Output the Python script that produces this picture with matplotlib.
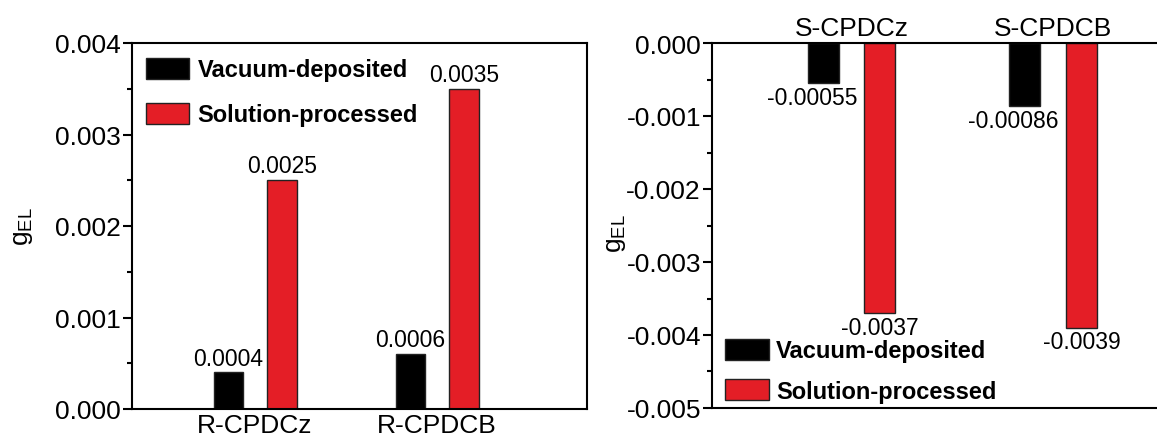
import matplotlib
matplotlib.use("Agg")
import matplotlib.pyplot as plt
from matplotlib.patches import Patch
from matplotlib.ticker import MultipleLocator
import numpy as np

plt.rcParams['font.family'] = ['Liberation Sans', 'DejaVu Sans']
plt.rcParams['axes.unicode_minus'] = False
plt.rcParams['mathtext.fontset'] = 'custom'
plt.rcParams['mathtext.rm'] = 'Liberation Sans'

# ---- data ----
r_categories = ["R-CPDCz", "R-CPDCB"]
r_vacuum = [0.0004, 0.0006]
r_solution = [0.0025, 0.0035]
r_vacuum_labels = ["0.0004", "0.0006"]
r_solution_labels = ["0.0025", "0.0035"]

s_categories = ["S-CPDCz", "S-CPDCB"]
s_vacuum = [-0.00055, -0.00086]
s_solution = [-0.0037, -0.0039]
s_vacuum_labels = ["-0.00055", "-0.00086"]
s_solution_labels = ["-0.0037", "-0.0039"]

series_names = ["Vacuum-deposited", "Solution-processed"]
colors = ["#000000", "#E41E26"]

W, H = 1157, 439
fig = plt.figure(figsize=(W / 100, H / 100), dpi=100)

axL = fig.add_axes([132 / W, 1 - 410 / H, (587 - 132) / W, (410 - 44) / H])
axR = fig.add_axes([712 / W, 1 - 409 / H, (1160 - 712) / W, (409 - 44) / H])

TICK_FS = 19
CAT_FS = 19
VAL_FS = 16.5
LEG_FS = 17
YLAB_FS = 19

def style_axis(ax):
    for s in ax.spines.values():
        s.set_linewidth(1.5)
    ax.yaxis.set_major_locator(MultipleLocator(0.001))
    ax.yaxis.set_minor_locator(MultipleLocator(0.0005))
    ax.yaxis.set_major_formatter(matplotlib.ticker.FormatStrFormatter('%.3f'))
    ax.tick_params(axis='y', which='major', direction='out', length=6.5, width=1.5,
                   labelsize=TICK_FS, pad=1.5)
    ax.tick_params(axis='y', which='minor', direction='out', length=3.5, width=1.5)
    ax.tick_params(axis='x', which='both', length=0, labelsize=CAT_FS)

# ---- left panel ----
x = np.arange(len(r_categories))
off, bw = 0.148, 0.16
axL.bar(x - off, r_vacuum, bw, color=colors[0], edgecolor='#222222', linewidth=1)
axL.bar(x + off, r_solution, bw, color=colors[1], edgecolor='#222222', linewidth=1)
for xi, v, t in zip(x - off, r_vacuum, r_vacuum_labels):
    axL.annotate(t, (xi, v), xytext=(0, 2), textcoords='offset points',
                 ha='center', va='bottom', fontsize=VAL_FS)
for xi, v, t in zip(x + off, r_solution, r_solution_labels):
    axL.annotate(t, (xi, v), xytext=(0, 2), textcoords='offset points',
                 ha='center', va='bottom', fontsize=VAL_FS)
axL.set_xlim(-0.676, 1.824)
axL.set_ylim(0, 0.004)
axL.set_xticks(x)
axL.set_xticklabels(r_categories)
style_axis(axL)
axL.tick_params(axis='x', pad=3)
axL.set_ylabel(r'$\mathregular{g_{EL}}$', fontsize=YLAB_FS)
axL.yaxis.set_label_coords(-0.213, 0.5)

handles = [Patch(facecolor=colors[0], edgecolor='#222222'),
           Patch(facecolor=colors[1], edgecolor='#222222')]
axL.legend(handles, series_names, loc='upper left', bbox_to_anchor=(0.03, 0.96),
           frameon=False, borderpad=0, borderaxespad=0, handlelength=1.85,
           handleheight=1.0, handletextpad=0.35, labelspacing=0.9,
           prop={'size': LEG_FS, 'weight': 'bold'})

# ---- right panel ----
x = np.arange(len(s_categories))
off, bw = 0.141, 0.154
axR.bar(x - off, s_vacuum, bw, color=colors[0], edgecolor='#222222', linewidth=1)
axR.bar(x + off, s_solution, bw, color=colors[1], edgecolor='#222222', linewidth=1)
for xi, v, t in zip(x - off, s_vacuum, s_vacuum_labels):
    axR.annotate(t, (xi, v), xytext=(-8, -2), textcoords='offset points',
                 ha='center', va='top', fontsize=VAL_FS)
for xi, v, t in zip(x + off, s_solution, s_solution_labels):
    axR.annotate(t, (xi, v), xytext=(0, -2), textcoords='offset points',
                 ha='center', va='top', fontsize=VAL_FS)
axR.set_xlim(-0.692, 1.53)
axR.set_ylim(-0.005, 0)
axR.set_xticks(x)
axR.set_xticklabels(s_categories)
axR.xaxis.tick_top()
style_axis(axR)
axR.tick_params(axis='x', pad=2)
axR.spines['right'].set_visible(False)
axR.set_ylabel(r'$\mathregular{g_{EL}}$', fontsize=YLAB_FS)
axR.yaxis.set_label_coords(-0.1875, 0.48)

axR.legend(handles, series_names, loc='lower left', bbox_to_anchor=(0.03, 0.015),
           frameon=False, borderpad=0, borderaxespad=0, handlelength=1.85,
           handleheight=1.0, handletextpad=0.3, labelspacing=0.7,
           prop={'size': LEG_FS, 'weight': 'bold'})

fig.savefig("out.png", dpi=100)
